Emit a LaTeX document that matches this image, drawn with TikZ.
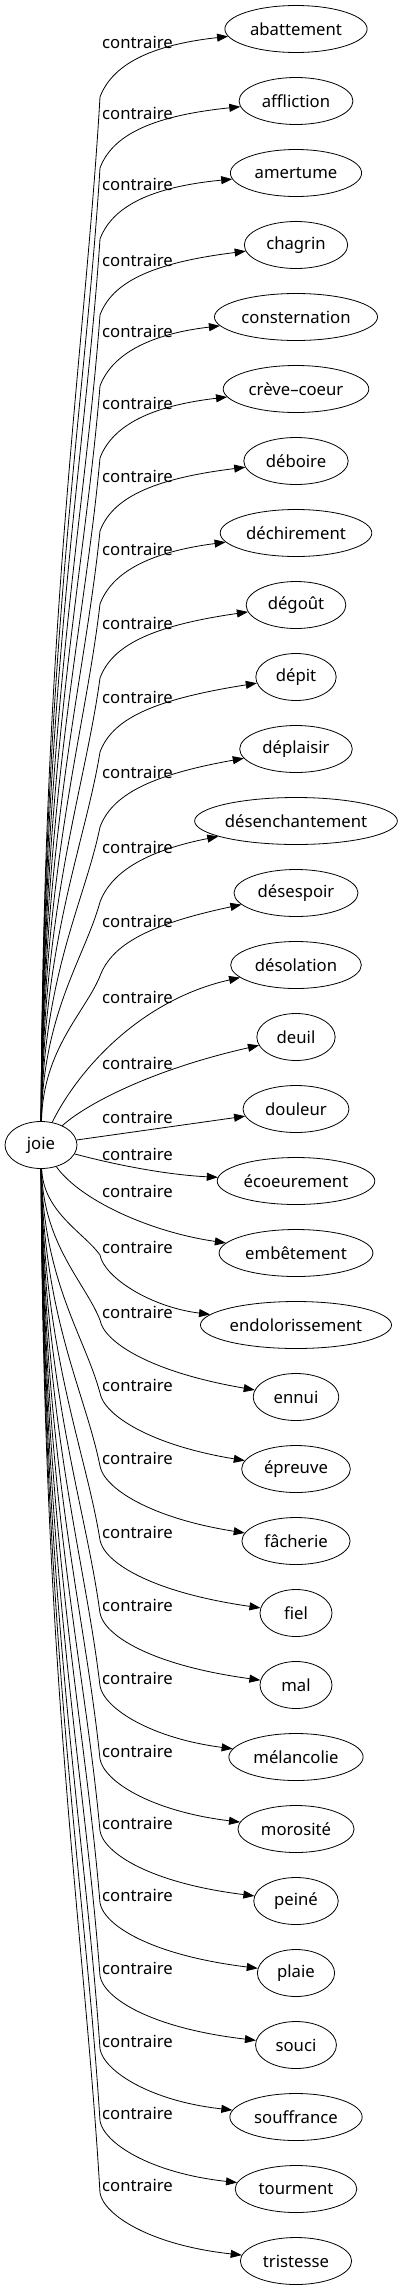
\documentclass[tikz,border=0pt]{standalone}
\usepackage{fontspec}
\setmainfont{Noto Sans}[Scale=1.67]
\usetikzlibrary{arrows.meta,shapes.geometric}
\tikzset{
  mot/.style={draw, ellipse, inner sep=0pt, minimum height=47pt, line width=0.8pt},
  lien/.style={line width=0.8pt, -{Triangle[length=11pt,width=8pt]}},
  etiq/.style={anchor=west, inner sep=0pt},
}
\begin{document}
\begin{tikzpicture}[x=1pt,y=-1pt]
  \useasboundingbox (0,0) rectangle (406,2291);
  % le mot de départ
  \node[mot, minimum width=72pt] (joie) at (41,1145) {joie};
  % les contraires, un par ligne
  \foreach \mot/\L [count=\i from 0] in {abattement/42, affliction/113, amertume/184,
      chagrin/260, consternation/331, crève–coeur/403, déboire/476, déchirement/549,
      dégoût/623, dépit/697, déplaisir/772, désenchantement/847, désespoir/921,
      désolation/997, deuil/1063, douleur/1117, écoeurement/1154, embêtement/1191,
      endolorissement/1247, ennui/1312, épreuve/1385, fâcherie/1458, fiel/1532,
      mal/1605, mélancolie/1678, morosité/1751, peiné/1823, plaie/1895,
      souci/1968, souffrance/2041, tourment/2113, tristesse/2185}{
    \pgfmathsetmacro\w{max(72,1.2*width("\mot")+32)}
    \node[mot, minimum width=\w pt] (m\i) at (296,29+72*\i) {\mot};
    \node[etiq] (c\i) at (102,\L) {contraire};
    % vers le haut
    \ifnum\i<13
      \draw[lien] (joie) .. controls (43,{(1177+\L)/2}) and (85,{0.75*\L+321.75}) .. (100,\L+55)
        .. controls (112,\L+23) and (150,\L+3) .. (m\i);
    \fi
    % vers le bas
    \ifnum\i>17
      \draw[lien] (joie) .. controls (43,{(1177+\L)/2}) and (85,{0.75*\L+298.25}) .. (100,\L+8)
        .. controls (104,\L+30) and (150,\L+60) .. (m\i);
    \fi
  }
  % les liens proches de joie
  \draw[lien] (joie) .. controls (78,1070) and (140,1000) .. (m13);
  \draw[lien] (joie) .. controls (85,1105) and (150,1070) .. (m14);
  \draw[lien] (joie) -- (m15);
  \draw[lien] (joie) .. controls (120,1166) and (170,1175) .. (m16);
  \draw[lien] (joie) .. controls (80,1200) and (150,1232) .. (m17);
\end{tikzpicture}
\end{document}
